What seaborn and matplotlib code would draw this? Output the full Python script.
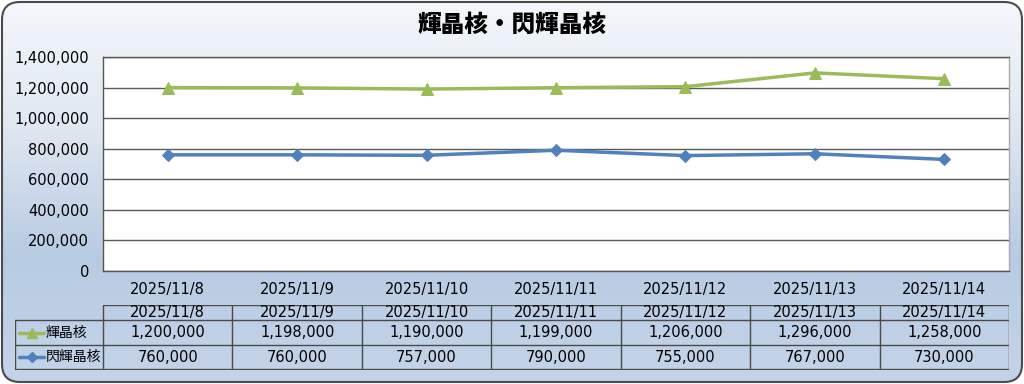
import numpy as np
import pandas as pd
import matplotlib
matplotlib.use("Agg")
import matplotlib.pyplot as plt
from matplotlib.patches import FancyBboxPatch
from matplotlib.ticker import FuncFormatter
from matplotlib.colors import LinearSegmentedColormap
import seaborn as sns

dates = ["2025/11/8", "2025/11/9", "2025/11/10", "2025/11/11", "2025/11/12", "2025/11/13", "2025/11/14"]
series_names = ["輝晶核", "閃輝晶核"]
kiki = [1200000, 1198000, 1190000, 1199000, 1206000, 1296000, 1258000]
senki = [760000, 760000, 757000, 790000, 755000, 767000, 730000]
y_ticks = [0, 200000, 400000, 600000, 800000, 1000000, 1200000, 1400000]
title = "輝晶核・閃輝晶核"

sns.set_theme(style="white")
plt.rcParams['font.family'] = ['DejaVu Sans', 'Noto Sans CJK JP']
plt.rcParams['text.color'] = 'black'
plt.rcParams['xtick.color'] = 'black'
plt.rcParams['ytick.color'] = 'black'

W, H = 1024, 384
fig = plt.figure(figsize=(W / 100, H / 100), dpi=100)

# background gradient + rounded border
bg = fig.add_axes([0, 0, 1, 1], zorder=0)
bg.set_xlim(0, W); bg.set_ylim(H, 0); bg.axis("off")
grad = np.linspace(0, 1, 256)[:, None]
cmap = LinearSegmentedColormap.from_list("g", ["#f4f7fb", "#dfe7f1", "#b7cbe2", "#c4d4e8"])
box = FancyBboxPatch((2, 2), W - 4, H - 4, boxstyle="round,pad=0,rounding_size=18",
                     facecolor="none", edgecolor="#4a4a4a", linewidth=1.5, zorder=3)
bg.add_patch(box)
im = bg.imshow(grad, extent=[2, W - 2, H - 2, 2], aspect="auto", cmap=cmap, zorder=1)
im.set_clip_path(box)

fig.text(512 / W, 1 - 25 / H, title, ha="center", va="center", fontsize=17,
         fontweight="heavy", family=['Noto Sans CJK JP'])

# main plot
px0, px1, py0, py1 = 103, 1009, 57, 271
ax = fig.add_axes([px0 / W, 1 - py1 / H, (px1 - px0) / W, (py1 - py0) / H], zorder=2)
ax.set_facecolor("white")
df = pd.DataFrame({"date": dates * 2,
                   "value": kiki + senki,
                   "series": [series_names[0]] * len(dates) + [series_names[1]] * len(dates)})
df["x"] = list(range(len(dates))) * 2
colors = {"輝晶核": "#9bbb59", "閃輝晶核": "#4f81bd"}
markers = {"輝晶核": "^", "閃輝晶核": "D"}
for name in series_names:
    d = df[df["series"] == name]
    sns.lineplot(data=d, x="x", y="value", ax=ax, color=colors[name], marker=markers[name],
                 markersize=8 if name == "輝晶核" else 6, markeredgecolor=colors[name],
                 linewidth=2.5, legend=False, zorder=3)
ax.set_xlim(-0.5, len(dates) - 0.5)
ax.set_ylim(0, 1400000)
ax.set_yticks(y_ticks)
ax.yaxis.set_major_formatter(FuncFormatter(lambda v, p: f"{int(v):,}"))
ax.set_xticks(range(len(dates)))
ax.set_xticklabels(dates)
ax.grid(axis="y", color="#5a5a5a", linewidth=1)
ax.set_axisbelow(True)
for s in ax.spines.values():
    s.set_visible(True); s.set_color("#555555"); s.set_linewidth(1)
ax.spines["right"].set_color("#aaaaaa")
ax.tick_params(axis="both", length=0, labelsize=10.5, colors="black")
ax.tick_params(axis="y", pad=10)
ax.tick_params(axis="x", pad=8)
ax.set_xlabel(""); ax.set_ylabel("")

# data table
tx0, tx1, ty0, ty1 = 15, 1009, 305, 370
tab = fig.add_axes([tx0 / W, 1 - ty1 / H, (tx1 - tx0) / W, (ty1 - ty0) / H], zorder=2)
tab.set_xlim(tx0, tx1); tab.set_ylim(ty1, ty0); tab.axis("off")
n = len(dates)
cw = (px1 - px0) / n
lc = "#4a4a4a"
tab.plot([px0, px1], [305, 305], color=lc, lw=1)
for y in (320, 345, 369):
    tab.plot([tx0, px1], [y, y], color=lc, lw=1)
for i in range(n + 1):
    x = px0 + i * cw
    tab.plot([x, x], [305, 369], color=lc, lw=1)
tab.plot([tx0, tx0], [320, 369], color=lc, lw=1)
fs = 10.5
for i, d in enumerate(dates):
    cx = px0 + (i + 0.5) * cw
    tab.text(cx, 312.5, d, ha="center", va="center", fontsize=fs)
    tab.text(cx, 332.5, f"{kiki[i]:,}", ha="center", va="center", fontsize=fs)
    tab.text(cx, 357, f"{senki[i]:,}", ha="center", va="center", fontsize=fs)
for (yy, name) in zip((332.5, 357), series_names):
    tab.plot([19, 44], [yy, yy], color=colors[name], lw=2.5)
    tab.plot([31.5], [yy], marker=markers[name], color=colors[name],
             markersize=7 if name == "輝晶核" else 5)
    tab.text(46, yy, name, ha="left", va="center", fontsize=10, family=['Noto Sans CJK JP'])

fig.savefig("out.png", dpi=100)
